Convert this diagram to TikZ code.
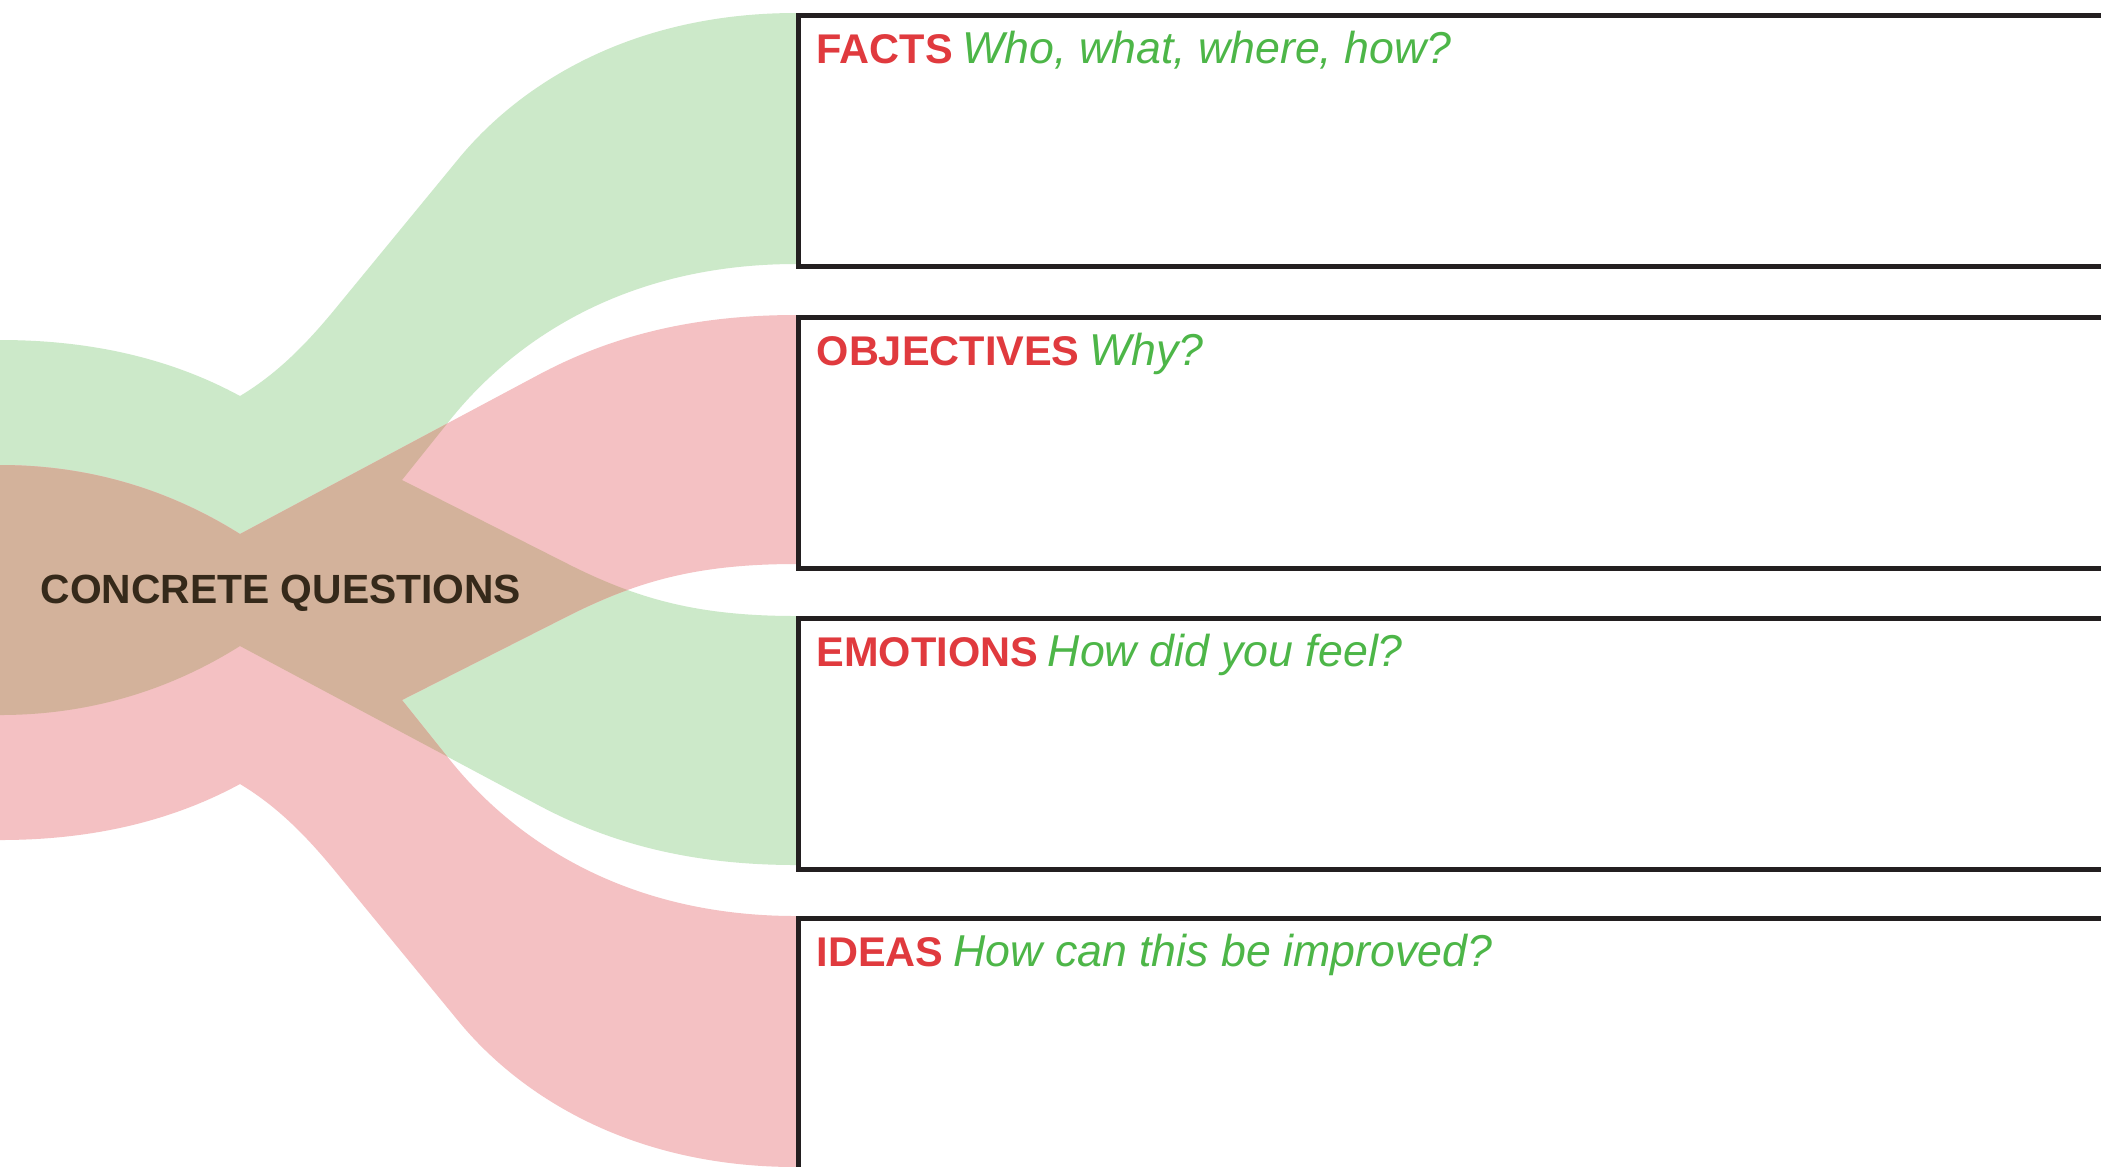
\documentclass[tikz,border=0pt]{standalone}
\usepackage{fontspec}
\setmainfont{Liberation Sans}
\usepackage{xcolor}
\usepackage{tikz}
\definecolor{flowgreen}{HTML}{CCE9C9}
\definecolor{flowpink}{HTML}{F4C1C3}
\definecolor{flowbrown}{HTML}{D3B29B}
\definecolor{headred}{HTML}{E03A3E}
\definecolor{askgreen}{HTML}{4DB648}
\definecolor{boxline}{HTML}{231F20}
\definecolor{conctext}{HTML}{35291A}
\def\greenflow{(0,340) .. controls (90,340) and (170,358) .. (240,396)
  .. controls (280,372) and (310,340) .. (340,303) -- (460,157)
  .. controls (520,85) and (630,13) .. (796,13) -- (796,264)
  .. controls (620,264) and (510,345) .. (450,420) -- (402,480) -- (570,565)
  .. controls (640,600) and (700,616) .. (796,616) -- (796,865)
  .. controls (690,865) and (610,843) .. (540,806) -- (240,646)
  .. controls (170,690) and (90,715) .. (0,715) -- cycle}
\def\pinkflow{(0,840) .. controls (90,840) and (170,822) .. (240,784)
  .. controls (280,808) and (310,840) .. (340,877) -- (460,1023)
  .. controls (520,1095) and (630,1167) .. (796,1167) -- (796,916)
  .. controls (620,916) and (510,835) .. (450,760) -- (402,700) -- (570,615)
  .. controls (640,580) and (700,564) .. (796,564) -- (796,315)
  .. controls (690,315) and (610,337) .. (540,374) -- (240,534)
  .. controls (170,490) and (90,465) .. (0,465) -- cycle}
\newcommand{\headfont}{\fontsize{11.8pt}{14pt}\selectfont\bfseries\color{headred}}
\newcommand{\askfont}{\fontsize{12.7pt}{15pt}\selectfont\itshape\color{askgreen}}
\begin{document}
\begin{tikzpicture}[x=0.01cm,y=-0.01cm,
    answerbox/.style={draw=boxline,line width=1.4pt,fill=white,inner sep=0pt,
      minimum width=13.3cm,minimum height=2.51cm,anchor=north west},
    headtext/.style={inner sep=0pt,anchor=base west}]
    \useasboundingbox (0,0) rectangle (2101,1166);
    \clip (0,0) rectangle (2101,1166);
    \fill[white] (0,0) rectangle (2101,1166);
    \fill[flowgreen] \greenflow;
    \fill[flowpink] \pinkflow;
      \begin{scope}
    \clip \greenflow;
    \fill[flowbrown] \pinkflow;
      \end{scope}
    \node[answerbox] (facts) at (796,13) {};
    \node[answerbox] (objectives) at (796,315) {};
    \node[answerbox] (emotions) at (796,616) {};
    \node[answerbox] (ideas) at (796,916) {};
    \node[headtext] (factshead) at ([xshift=0.2cm,yshift=-0.5cm] facts.north west)
      {{\headfont FACTS} {\askfont Who, what, where, how?}};
    \node[headtext] (objectiveshead) at ([xshift=0.2cm,yshift=-0.5cm] objectives.north west)
      {{\headfont OBJECTIVES} {\askfont Why?}};
    \node[headtext] (emotionshead) at ([xshift=0.2cm,yshift=-0.5cm] emotions.north west)
      {{\headfont EMOTIONS} {\askfont How did you feel?}};
    \node[headtext] (ideashead) at ([xshift=0.2cm,yshift=-0.5cm] ideas.north west)
      {{\headfont IDEAS} {\askfont How can this be improved?}};
    \node[headtext,text=conctext,font=\fontsize{11.6pt}{14pt}\selectfont\bfseries]
      (concrete) at (40,603) {CONCRETE QUESTIONS};
    \end{tikzpicture}
\end{document}
